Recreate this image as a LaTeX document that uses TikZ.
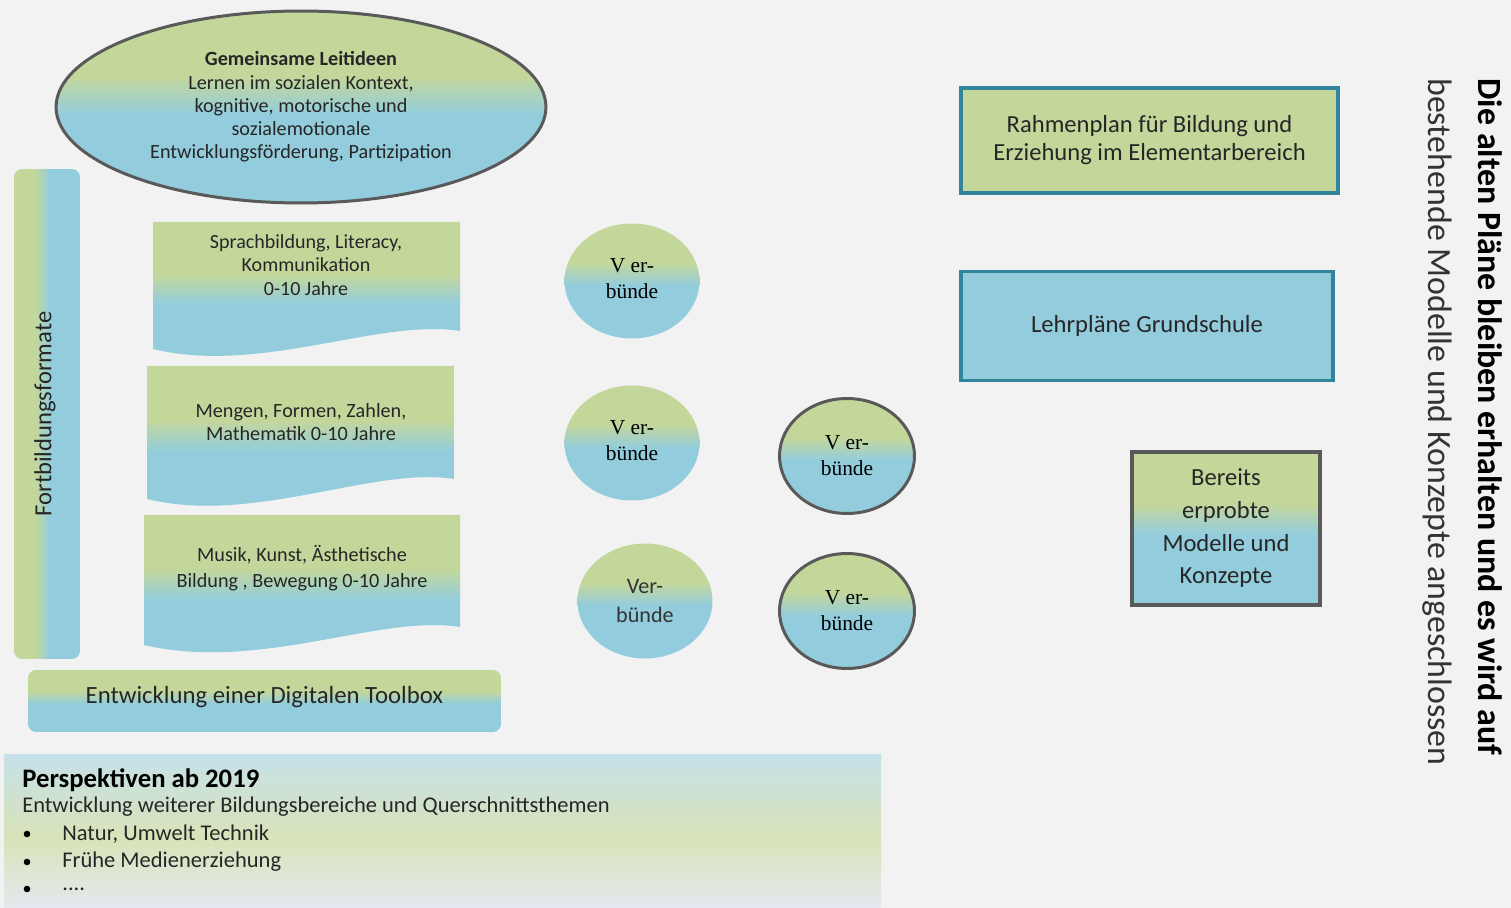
\documentclass[tikz,border=0pt]{standalone}
\usepackage{fontspec}
\setmainfont{Carlito}
\newfontfamily\verbfont{Liberation Serif}
\usetikzlibrary{shapes.geometric}

\definecolor{lgreen}{HTML}{C4D79B}
\definecolor{lblue}{HTML}{93CDDD}
\definecolor{lteal}{HTML}{31849B}
\definecolor{lgray}{HTML}{595959}
\definecolor{paper}{HTML}{F2F2F2}
\definecolor{ptop}{HTML}{C6E1EA}
\definecolor{pmid}{HTML}{D8E3B8}
\definecolor{pbot}{HTML}{E3E9EF}

\pgfdeclareverticalshading{greenblue}{100bp}{color(0bp)=(lblue); color(48bp)=(lblue); color(58bp)=(lgreen); color(100bp)=(lgreen)}
\pgfdeclarehorizontalshading{greenblueh}{100bp}{color(0bp)=(lgreen); color(41bp)=(lgreen); color(52bp)=(lblue); color(100bp)=(lblue)}
\pgfdeclareverticalshading{perspshade}{100bp}{color(0bp)=(pbot); color(25bp)=(pbot); color(48bp)=(pmid); color(75bp)=(ptop); color(100bp)=(ptop)}

\begin{document}
\begin{tikzpicture}[x=0.02cm,y=-0.02cm,
  txt/.style={text=black!85,align=center,inner sep=0pt},
  verbund/.style={ellipse,shading=greenblue,minimum width=2.7cm,minimum height=2.3cm,inner sep=0pt,
    text=black,align=center,font=\verbfont\fontsize{12.2}{14.8}\selectfont},
  verbundrand/.style={verbund,draw=lgray,line width=1.7pt},
  plan/.style={rectangle,draw=lteal,line width=2pt,inner sep=0pt,text=black!85,align=center,
    font=\fontsize{14}{16}\selectfont}]

\useasboundingbox (0,0) rectangle (1511,908);
\fill[paper] (0,0) rectangle (1511,908);

% Leitideen
\node[ellipse,shading=greenblue,draw=lgray,line width=1.7pt,minimum width=9.8cm,minimum height=3.84cm,
  inner sep=0pt,txt,font=\fontsize{11.5}{13.2}\selectfont] (leit) at (301,107)
  {\textbf{Gemeinsame Leitideen}\\Lernen im sozialen Kontext,\\kognitive, motorische und\\sozialemotionale\\Entwicklungsförderung, Partizipation};

% Fortbildungsformate
\node[rectangle,rounded corners=0.16cm,shading=greenblueh,minimum width=1.32cm,minimum height=9.8cm] (fort) at (47,414) {};
\node[txt,rotate=90,font=\fontsize{14}{15}\selectfont] (fortlabel) at (45,414) {Fortbildungsformate};

% Bildungsbereiche
\shade[shading=greenblue] (153,222) -- (460,222) -- (460,331) .. controls (380,318) and (260,375) .. (153,349) -- cycle;
\node[txt,font=\fontsize{11.4}{13.3}\selectfont] (sprache) at (306,265) {Sprachbildung, Literacy,\\Kommunikation\\0-10 Jahre};
\shade[shading=greenblue] (147,366) -- (454,366) -- (454,479) .. controls (374,466) and (254,525) .. (147,499) -- cycle;
\node[txt,font=\fontsize{11.5}{13.5}\selectfont] (mathe) at (301,422) {Mengen, Formen, Zahlen,\\Mathematik 0-10 Jahre};
\shade[shading=greenblue] (144,515) -- (460,515) -- (460,627) .. controls (380,614) and (260,672) .. (144,645) -- cycle;
\node[txt,font=\fontsize{11.5}{14.8}\selectfont] (musik) at (302,568) {Musik, Kunst, Ästhetische\\Bildung , Bewegung 0-10 Jahre};

% Verbuende
\node[verbund] (v1) at (632,281) {V er-\\bünde\rule[-3pt]{0pt}{0pt}};
\node[verbund] (v2) at (632,443) {V er-\\bünde\rule[-3pt]{0pt}{0pt}};
\node[verbund,font=\fontsize{12.6}{16.5}\selectfont,text=black!80] (v3) at (645,601) {Ver-\\bünde};
\node[verbundrand] (v4) at (847,456) {V er-\\bünde};
\node[verbundrand] (v5) at (847,611) {V er-\\bünde};

% alte Plaene
\node[plan,fill=lgreen,minimum width=7.54cm,minimum height=2.1cm] (rahmen) at (1149.5,140.5)
  {Rahmenplan für Bildung und\\Erziehung im Elementarbereich};
\node[plan,fill=lblue,minimum width=7.44cm,minimum height=2.18cm] (lehr) at (1147,326) {Lehrpläne Grundschule};
\node[plan,draw=lgray,shading=greenblue,minimum width=3.76cm,minimum height=3.06cm,
  font=\fontsize{14}{18.6}\selectfont] (bereits) at (1226,528.5) {Bereits\\erprobte\\Modelle und\\Konzepte};

% Toolbox
\node[rectangle,rounded corners=0.16cm,shading=greenblue,minimum width=9.46cm,minimum height=1.24cm] (toolbox) at (264.5,701) {};
\node[txt,font=\fontsize{14.1}{16}\selectfont] (toollabel) at (264.5,697) {Entwicklung einer Digitalen Toolbox};

% Perspektiven
\shade[shading=perspshade] (4,754) rectangle (881,908);
\node[txt,anchor=west,font=\bfseries\fontsize{15.2}{18}\selectfont,text=black] (persp) at (22,780) {Perspektiven ab 2019};
\node[txt,anchor=west,font=\fontsize{12.8}{14}\selectfont] (weitere) at (22,807) {Entwicklung weiterer Bildungsbereiche und Querschnittsthemen};
\foreach \y/\item [count=\i] in {834/{Natur, Umwelt Technik},862/{Frühe Medienerziehung},889/{....}} {
  \fill[black] (27,\y) circle (3.3);
  \node[txt,anchor=west,font=\fontsize{12.8}{14}\selectfont] (punkt\i) at (62,\y) {\item};
}

% Randtext
\node[txt,rotate=-90,font=\bfseries\fontsize{19.3}{20}\selectfont,text=black] (alt) at (1490,417) {Die alten Pläne bleiben erhalten und es wird auf};
\node[txt,rotate=-90,font=\fontsize{19.3}{20}\selectfont,text=black!80] (neu) at (1437,422) {bestehende Modelle und Konzepte angeschlossen};
\end{tikzpicture}
\end{document}
